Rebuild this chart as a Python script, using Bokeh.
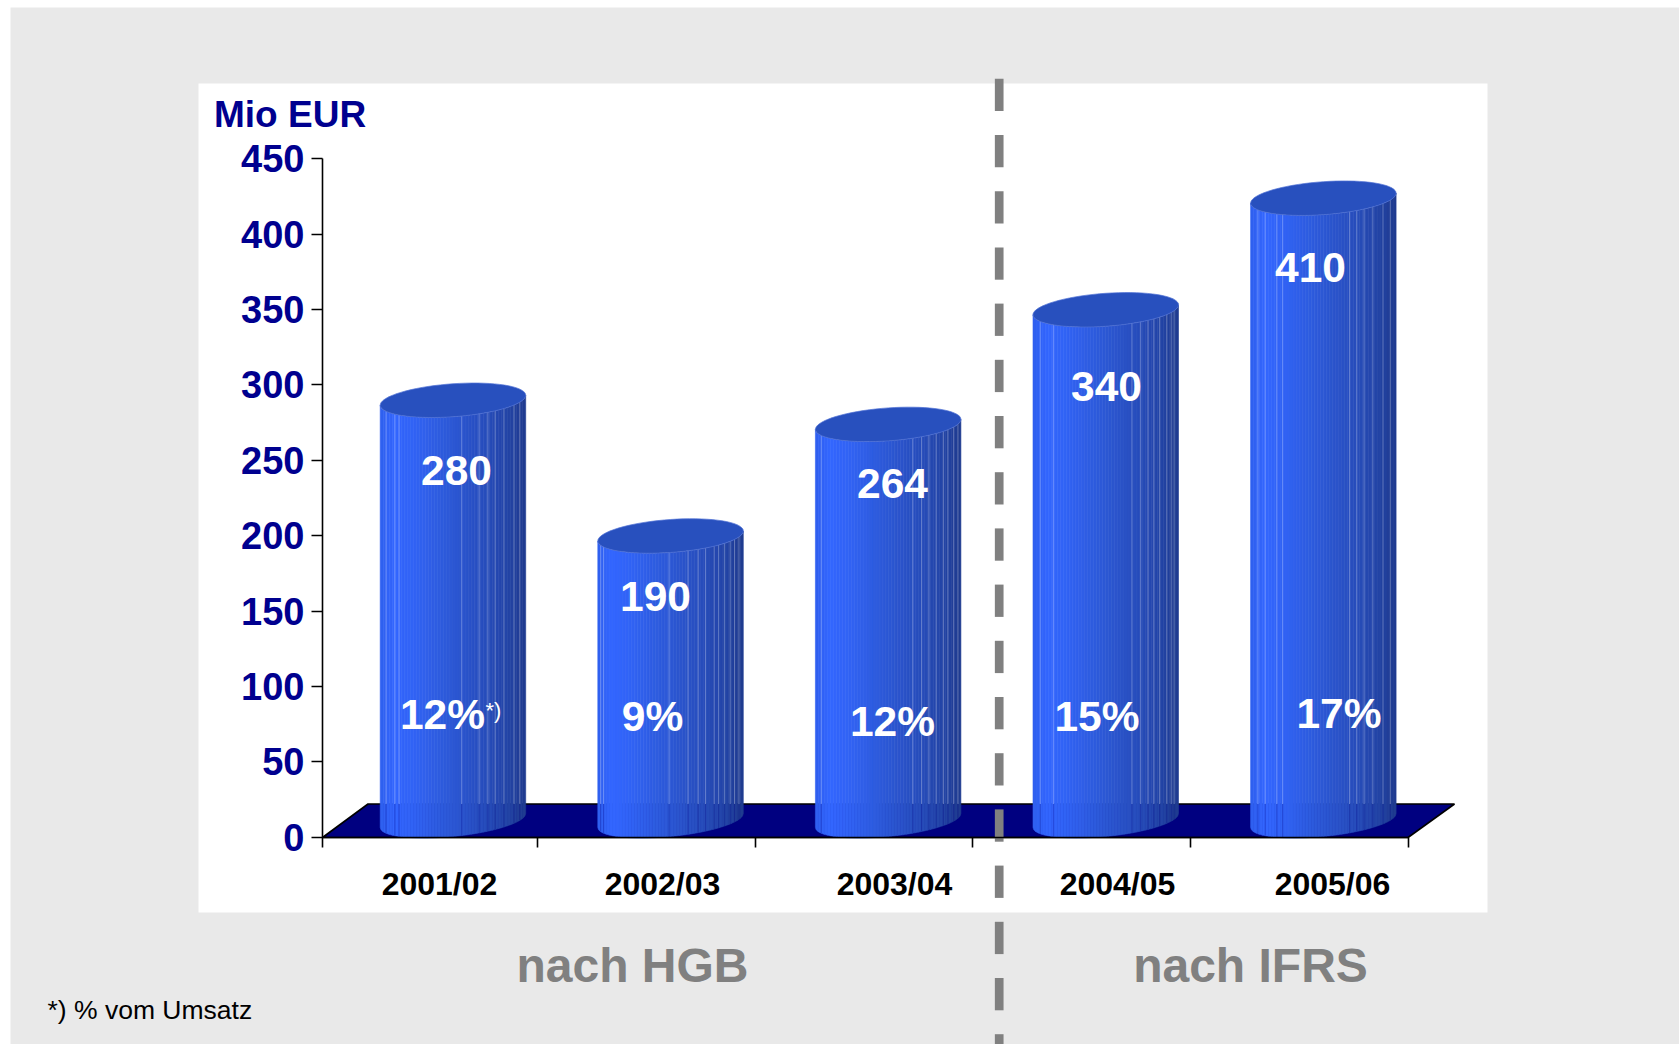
import math
from bokeh.core.properties import value
from bokeh.embed import file_html
from bokeh.models import ColumnDataSource, FixedTicker, LinearAxis
from bokeh.plotting import figure
from bokeh.resources import INLINE

# ---- data -------------------------------------------------------------
categories = ["2001/02", "2002/03", "2003/04", "2004/05", "2005/06"]
bar_heights = [280, 190, 264, 340, 414]       # as read from the cylinders
value_labels = ["280", "190", "264", "340", "410"]  # as printed on them
margins = ["12%", "9%", "12%", "15%", "17%"]
y_ticks = [0, 50, 100, 150, 200, 250, 300, 350, 400, 450]

# ---- page layout (page pixels) -----------------------------------------
W, H = 1679, 1044
OX, OY = 0, 0                 # where the canvas lands in the picture
PX0, STEP = 319.5, 217.6      # x of category boundary 0, category spacing
AXIS_PX = 322.0               # x of the value axis
PY0, SCALE = 836.7, 1.508     # y of value 0, pixels per unit


def X(px):
    return (px - PX0) / STEP


def Y(py):
    return (PY0 - py) / SCALE


FONT = value("Liberation Sans")
NAVY = "#00008F"
GREY = "#808080"

p = figure(width=W, height=H, output_backend="svg", toolbar_location=None,
           x_range=(X(OX), X(OX + W)), y_range=(Y(OY + H), Y(OY)),
           x_axis_location=None, y_axis_location=None, min_border=0)
p.grid.visible = False
p.outline_line_color = None
p.background_fill_color = "white"
p.border_fill_color = "white"

# panels
p.quad(left=[X(10)], right=[X(OX + W)], top=[Y(7)], bottom=[Y(OY + H)],
       fill_color="#E9E9E9", line_color=None)
p.quad(left=[X(198)], right=[X(1487)], top=[Y(83)], bottom=[Y(912)],
       fill_color="white", line_color=None)

# floor
p.patch(x=[X(322), X(1407.5), X(1454), X(367.5)],
        y=[Y(837), Y(837), Y(803.5), Y(803.5)],
        fill_color="#000080", line_color="black", line_width=1.6)

# ---- cylinders ---------------------------------------------------------
BAR_CENTER = 0.611                   # category units from the boundary
HALF = 72.75 / STEP                  # half width in category units
BASE = (PY0 - 827) / SCALE           # level of the bottom rim's left end
TOP_S, TOP_B = 5.0 / SCALE, 16.5 / SCALE
BOT_S, BOT_B = 7.0 / SCALE, 16.0 / SCALE
FLOOR_BACK = Y(803.5)
N_STRIPS = 48

STOPS = [(0.0, (0x2F, 0x5F, 0xEE)), (0.1, (0x33, 0x66, 0xFF)),
         (0.25, (0x31, 0x62, 0xF2)), (0.5, (0x2C, 0x58, 0xD4)),
         (0.7, (0x28, 0x4E, 0xBE)), (0.88, (0x23, 0x44, 0xA6)),
         (1.0, (0x1F, 0x3A, 0x8E))]


def shade(f):
    for (f0, c0), (f1, c1) in zip(STOPS, STOPS[1:]):
        if f <= f1:
            t = (f - f0) / (f1 - f0)
            return "#%02X%02X%02X" % tuple(
                round(a + (b - a) * t) for a, b in zip(c0, c1))
    return "#1F3A8E"


def rim_top(u, v, sign=1):
    """Front (sign=1) or back (sign=-1) of the top ellipse."""
    return BASE + v + TOP_S + TOP_S * u - sign * TOP_B * math.sqrt(max(0, 1 - u * u))


def rim_bottom(u):
    return BASE + BOT_S + BOT_S * u - BOT_B * math.sqrt(max(0, 1 - u * u))


# facet lines of each cylinder, as fractions of its width
facets = [
    [.04, .10, .13, .56, .68, .74, .79, .85, .92, .96],
    [.02, .04, .49, .62, .69, .74, .80, .83, .87, .91, .94, .97],
    [.04, .67, .73, .78, .83, .88, .91, .95, .98],
    [.05, .14, .68, .74, .79, .83, .87, .92, .95, .97],
    [.05, .10, .18, .22, .68, .73, .78, .84, .91, .96],
]

s_x, s_y, s_c = [], [], []
t_x, t_y = [], []
l_x0, l_y0, l_y1, d_y0, d_y1 = [], [], [], [], []
for i, v in enumerate(bar_heights):
    cx = i + BAR_CENTER
    for k in range(N_STRIPS):
        f0, f1 = k / N_STRIPS, (k + 1) / N_STRIPS
        us = [2 * f0 - 1 + (f1 - f0) * 2 * j / 4 for j in range(5)]
        xs = [cx + HALF * u for u in us]
        s_x.append(xs + xs[::-1])
        s_y.append([rim_top(u, v) for u in us] + [rim_bottom(u) for u in us[::-1]])
        s_c.append(shade((f0 + f1) / 2))
    angles = [2 * math.pi * j / 72 for j in range(73)]
    t_x.append([cx + HALF * math.cos(a) for a in angles])
    t_y.append([rim_top(math.cos(a), v, 1 if math.sin(a) < 0 else -1) for a in angles])
    for f in facets[i]:
        u = 2 * f - 1
        l_x0.append(cx + HALF * u)
        l_y0.append(rim_top(u, v))
        l_y1.append(FLOOR_BACK)
        d_y0.append(FLOOR_BACK)
        d_y1.append(rim_bottom(u))

p.patches(xs=s_x, ys=s_y, fill_color=s_c, line_color=s_c, line_width=0.6)
p.segment(x0=l_x0, y0=l_y0, x1=l_x0, y1=l_y1,
          line_color="white", line_alpha=0.28, line_width=1)
p.segment(x0=l_x0, y0=d_y0, x1=l_x0, y1=d_y1,
          line_color="#000080", line_alpha=0.28, line_width=1)
p.patches(xs=t_x, ys=t_y, fill_color="#2850BE", line_color="#5273D6", line_width=0.7)

# ---- axes ---------------------------------------------------------------
yaxis = LinearAxis(fixed_location=X(AXIS_PX), bounds=(0, 450), ticker=FixedTicker(ticks=y_ticks))
yaxis.axis_line_color = "black"
yaxis.axis_line_width = 1.6
yaxis.major_tick_line_color = "black"
yaxis.major_tick_line_width = 1.6
yaxis.major_tick_in = 0
yaxis.major_tick_out = 11
yaxis.minor_tick_line_color = None
yaxis.major_label_standoff = 7
yaxis.major_label_text_font = "Liberation Sans"
yaxis.major_label_text_font_style = "bold"
yaxis.major_label_text_font_size = "38px"
yaxis.major_label_text_color = NAVY
p.add_layout(yaxis, "left")

x_ticks = [X(AXIS_PX)] + list(range(1, len(categories) + 1))
xaxis = LinearAxis(fixed_location=0, bounds=(X(AXIS_PX), len(categories)),
                   ticker=FixedTicker(ticks=x_ticks))
xaxis.axis_line_color = "black"
xaxis.axis_line_width = 1.6
xaxis.major_tick_line_color = "black"
xaxis.major_tick_line_width = 1.6
xaxis.major_tick_in = 0
xaxis.major_tick_out = 10
xaxis.minor_tick_line_color = None
xaxis.major_label_overrides = {t: "" for t in x_ticks}
p.add_layout(xaxis, "below")

# ---- divider -------------------------------------------------------------
dash_top = [78.3 + 56.2 * k for k in range(18)]
p.segment(x0=[X(998.7)] * len(dash_top), y0=[Y(t) for t in dash_top],
          x1=[X(998.7)] * len(dash_top), y1=[Y(min(t + 32.3, OY + H)) for t in dash_top],
          line_color=GREY, line_width=8.7, line_cap="butt")


# ---- texts ---------------------------------------------------------------
def texts(labels, px, py, size, color, style="bold", align="center", baseline="middle"):
    src = ColumnDataSource(dict(x=[X(a) for a in px], y=[Y(b) for b in py], t=labels))
    p.text(x="x", y="y", text="t", source=src, text_font=FONT, text_font_style=style,
           text_font_size=size, text_color=color, text_align=align, text_baseline=baseline)


texts(value_labels, [456, 655, 892, 1106, 1310],
      [470, 596, 483, 385.5, 266.6], "42.5px", "white")
texts(margins, [442, 652, 892, 1096.5, 1338.5],
      [714, 716, 721, 716, 712.5], "42.5px", "white")
texts(["*)"], [493], [710], "22px", "white", style="normal")
texts(categories, [439, 662, 894, 1117, 1332],
      [883, 883, 883, 883, 883], "32px", "black")
texts(["Mio EUR"], [213.5], [113.5], "37px", NAVY, align="left")
texts(["nach HGB", "nach IFRS"], [632, 1250], [965, 965], "48px", GREY)
texts(["*) % vom Umsatz"], [47], [1009], "26.5px", "black", style="normal", align="left")

open("out.html", "w").write(file_html(p, INLINE))
